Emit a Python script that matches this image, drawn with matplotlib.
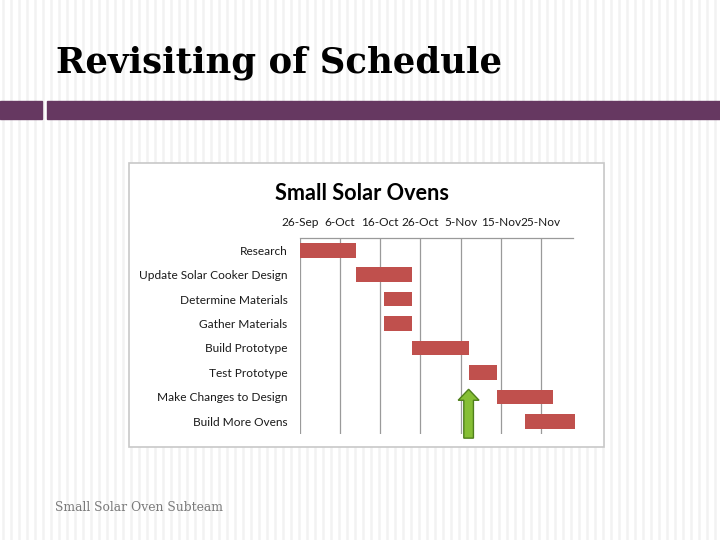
import matplotlib
matplotlib.use("Agg")
import matplotlib.pyplot as plt
from matplotlib.patches import Rectangle, FancyArrow

# ---- data ----
tasks = ["Research", "Update Solar Cooker Design", "Determine Materials",
         "Gather Materials", "Build Prototype", "Test Prototype",
         "Make Changes to Design", "Build More Ovens"]
start_days = [0, 14, 21, 21, 28, 42, 49, 56]       # days after 26-Sep
durations = [14, 14, 7, 7, 14, 7, 14, 12.4]
tick_days = [0, 10, 20, 30, 40, 50, 60]
tick_labels = ["26-Sep", "6-Oct", "16-Oct", "26-Oct", "5-Nov", "15-Nov", "25-Nov"]
today_day = 42
axis_max_day = 68

W, H = 720, 540
fig = plt.figure(figsize=(7.2, 5.4), dpi=100)

# ---- slide background ----
bg = fig.add_axes([0, 0, 1, 1])
bg.set_xlim(0, W)
bg.set_ylim(H, 0)
bg.axis("off")
for x in range(3, W, 8):
    bg.axvline(x, color="#f2f2f2", lw=1.8, zorder=0)
bg.add_patch(Rectangle((0, 101), 42, 18, color="#663861", zorder=1))
bg.add_patch(Rectangle((47, 101), W - 47, 18, color="#663861", zorder=1))
bg.text(56, 72, "Revisiting of Schedule", fontsize=25.5, family="DejaVu Serif",
        fontweight="bold", color="black", va="baseline", ha="left")
bg.text(55, 511, "Small Solar Oven Subteam", fontsize=8.9, family="DejaVu Serif",
        color="#7a7a7a", va="baseline", ha="left")
# chart frame
bg.add_patch(Rectangle((129, 163), 475, 284, facecolor="white",
                       edgecolor="#c8c8c8", lw=1.2, zorder=2))
bg.text(362, 200, "Small Solar Ovens", fontsize=15.6, family="Lato",
        fontweight="bold", color="black", ha="center", va="baseline", zorder=3)

# ---- gantt axes ----
x0, x1, y0, y1 = 300, 573, 238, 433.5
ax = fig.add_axes([x0 / W, 1 - y1 / H, (x1 - x0) / W, (y1 - y0) / H])
ax.set_facecolor("none")
ypos = list(range(len(tasks)))
ax.barh(ypos, durations, left=start_days, height=0.6, color="#c0504d",
        zorder=3, clip_on=False)
ax.set_xlim(0, axis_max_day)
ax.set_ylim(len(tasks) - 0.5, -0.5)
ax.xaxis.tick_top()
ax.set_xticks(tick_days)
ax.set_xticklabels(tick_labels, fontsize=8.6, family="Lato", color="#1a1a1a")
ax.set_yticks(ypos)
ax.set_yticklabels(tasks, fontsize=8.6, family="Lato", color="#1a1a1a")
ax.tick_params(axis="x", length=0, pad=7)
ax.tick_params(axis="y", length=0, pad=9)
ax.grid(axis="x", color="#9a9a9a", lw=0.9, zorder=1)
for s in ["left", "right", "bottom"]:
    ax.spines[s].set_visible(False)
ax.spines["top"].set_color("#9a9a9a")
ax.spines["top"].set_linewidth(0.9)

# current date arrow
arr = FancyArrow(today_day, 7.69, 0, -2.0, width=2.4, head_width=5.2,
                 head_length=0.45, length_includes_head=True,
                 facecolor="#86bf35", edgecolor="#4f7f1c", lw=1.0,
                 zorder=5, clip_on=False)
ax.add_patch(arr)

fig.savefig("out.png", dpi=100)
